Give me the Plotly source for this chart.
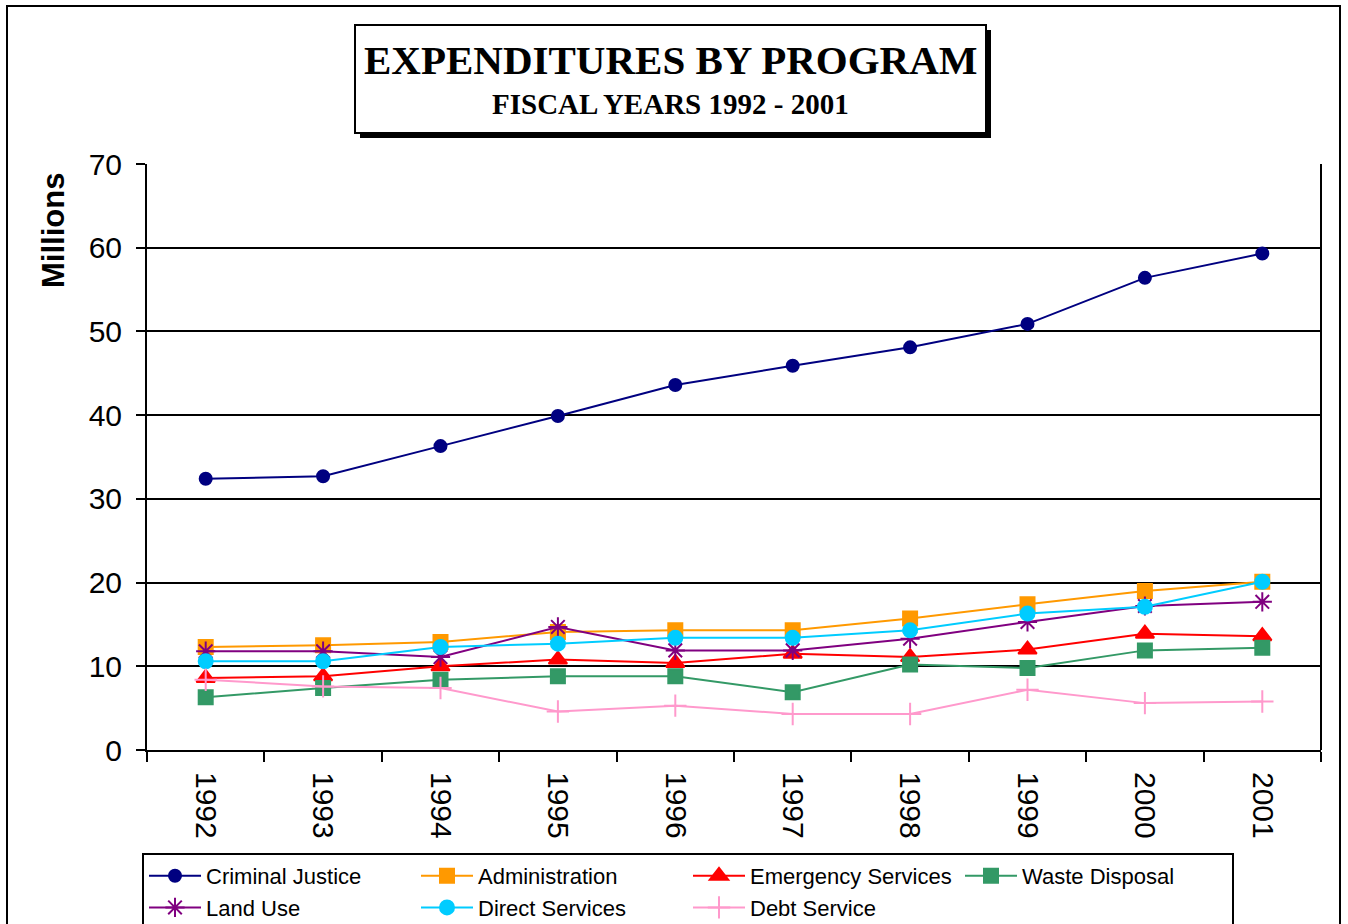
import plotly.graph_objects as go

# Fiscal years and program expenditures (millions of dollars)
years = ["1992", "1993", "1994", "1995", "1996", "1997", "1998", "1999", "2000", "2001"]

criminal_justice = [32.4, 32.7, 36.3, 39.9, 43.6, 45.9, 48.1, 50.9, 56.4, 59.3]
administration = [12.3, 12.5, 12.9, 14.1, 14.3, 14.3, 15.7, 17.4, 19.0, 20.1]
emergency_services = [8.6, 8.8, 10.0, 10.8, 10.4, 11.5, 11.1, 12.0, 13.9, 13.6]
waste_disposal = [6.3, 7.4, 8.4, 8.8, 8.8, 6.9, 10.2, 9.8, 11.9, 12.2]
land_use = [11.8, 11.8, 11.1, 14.7, 11.9, 11.9, 13.3, 15.3, 17.2, 17.7]
direct_services = [10.6, 10.6, 12.3, 12.7, 13.4, 13.4, 14.3, 16.3, 17.1, 20.1]
debt_service = [8.4, 7.6, 7.4, 4.6, 5.3, 4.3, 4.3, 7.2, 5.6, 5.8]

y_ticks = [0, 10, 20, 30, 40, 50, 60, 70]

series = [
    ("Criminal Justice", criminal_justice, "#000080", "circle", 12),
    ("Administration", administration, "#FF9900", "square", 14),
    ("Emergency Services", emergency_services, "#FF0000", "triangle-up", 16),
    ("Waste Disposal", waste_disposal, "#339966", "square", 14),
    ("Land Use", land_use, "#800080", "asterisk-open", 16),
    ("Direct Services", direct_services, "#00CCFF", "circle", 14),
    ("Debt Service", debt_service, "#FF99CC", "cross-thin-open", 16),
]

fig = go.Figure()
for name, vals, color, symbol, size in series:
    fig.add_trace(go.Scatter(
        x=years, y=vals, name=name, mode="lines+markers",
        line=dict(color=color, width=2),
        marker=dict(symbol=symbol, size=size, color=color,
                    line=dict(color=color, width=2)),
    ))

# plot area in pixels: x 147..1321, y 164..750
L, R, T, B = 147, 1321, 164, 750
W, H = R - L, B - T


def px_x(p):
    return (p - L) / W


def px_y(p):
    return (B - p) / H


shapes = [
    # outer chart border
    dict(type="rect", xref="paper", yref="paper",
         x0=px_x(7), x1=px_x(1340), y0=px_y(940), y1=px_y(6),
         line=dict(color="black", width=2), layer="below"),
    # title box shadow
    dict(type="rect", xref="paper", yref="paper",
         x0=px_x(360), x1=px_x(991), y0=px_y(138), y1=px_y(30),
         line=dict(width=0), fillcolor="black"),
    # title box
    dict(type="rect", xref="paper", yref="paper",
         x0=px_x(355), x1=px_x(986), y0=px_y(133), y1=px_y(25),
         line=dict(color="black", width=2), fillcolor="white"),
    # plot area frame (right edge)
    dict(type="line", xref="paper", yref="paper",
         x0=1, x1=1, y0=0, y1=1, line=dict(color="black", width=2)),
]

annotations = [
    dict(text="<b>EXPENDITURES BY PROGRAM</b>", xref="paper", yref="paper",
         x=px_x(671), y=px_y(60), xanchor="center", yanchor="middle",
         showarrow=False,
         font=dict(family="Liberation Serif", size=41, color="black")),
    dict(text="<b>FISCAL YEARS 1992 - 2001</b>", xref="paper", yref="paper",
         x=px_x(670), y=px_y(104), xanchor="center", yanchor="middle",
         showarrow=False,
         font=dict(family="Liberation Serif", size=29, color="black")),
    dict(text="<b>Millions</b>", xref="paper", yref="paper",
         x=px_x(53), y=px_y(230), xanchor="center", yanchor="middle",
         showarrow=False, textangle=-90,
         font=dict(family="Liberation Sans", size=31, color="black")),
]

fig.update_layout(
    width=1348, height=924,
    margin=dict(l=L, r=1348 - R, t=T, b=924 - B, autoexpand=False),
    paper_bgcolor="white", plot_bgcolor="white",
    showlegend=True,
    legend=dict(
        orientation="h", x=px_x(142), y=px_y(853),
        xanchor="left", yanchor="top",
        bordercolor="black", borderwidth=2, bgcolor="white",
        font=dict(family="Liberation Sans", size=22, color="black"),
        itemwidth=52, entrywidth=205, entrywidthmode="pixels",
        tracegroupgap=0, traceorder="normal",
    ),
    xaxis=dict(
        type="category", categoryorder="array", categoryarray=years,
        range=[-0.5, len(years) - 0.5],
        showline=True, linecolor="black", linewidth=2,
        ticks="outside", ticklen=10, tickwidth=2, tickcolor="black",
        tickson="boundaries", tickangle=90,
        tickfont=dict(family="Liberation Sans", size=30, color="black"),
        showgrid=False, zeroline=False, ticklabelstandoff=14,
    ),
    yaxis=dict(
        range=[0, 70], tickvals=y_ticks,
        showline=True, linecolor="black", linewidth=2,
        ticks="outside", ticklen=9, tickwidth=2, tickcolor="black",
        tickfont=dict(family="Liberation Sans", size=30, color="black"),
        showgrid=True, gridcolor="black", gridwidth=2,
        zeroline=False, ticklabelstandoff=8,
    ),
    shapes=shapes,
    annotations=annotations,
    font=dict(family="Liberation Sans", color="black"),
)

fig.write_html("out.html")
